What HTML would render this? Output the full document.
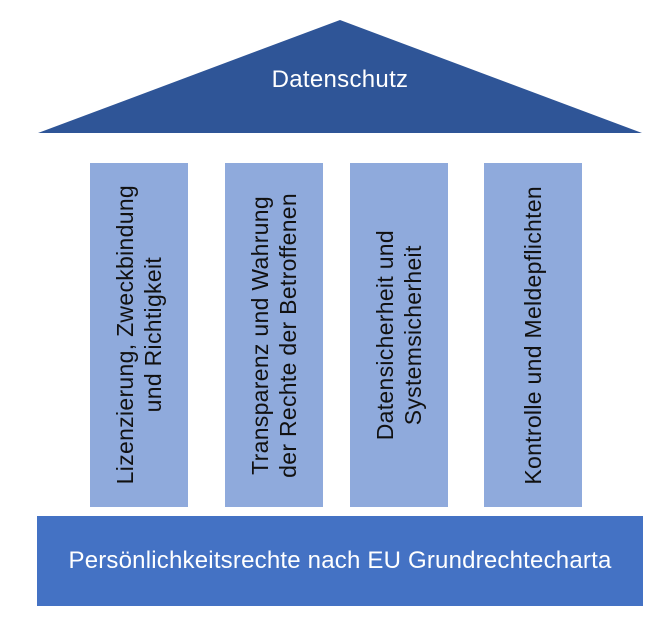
<!DOCTYPE html>
<html><head><meta charset="utf-8"><style>
body{margin:0;width:666px;height:619px;background:#fff;position:relative;overflow:hidden;font-family:"Liberation Sans",Arial,sans-serif}
.p{position:absolute;top:163px;width:98px;height:344px;background:#8faadc;display:flex;align-items:center;justify-content:center}
.p span{writing-mode:vertical-rl;transform:rotate(180deg);font-size:23px;line-height:28px;text-align:center;color:#111;white-space:nowrap;letter-spacing:0.3px}
.base{position:absolute;left:37px;top:516px;width:606px;height:90px;background:#4472c4;color:#fff;font-size:24px;display:flex;align-items:center;justify-content:center;letter-spacing:0.2px}
</style></head><body>
<svg width="666" height="140" style="position:absolute;left:0;top:0">
<polygon points="340,20 38,133 642,133" fill="#2f5597"/>
<text x="340" y="87" fill="#fff" font-size="24" text-anchor="middle" font-family="Liberation Sans,Arial,sans-serif" letter-spacing="0.3">Datenschutz</text>
</svg>
<div class="p" style="left:90px"><span>Lizenzierung, Zweckbindung<br>und Richtigkeit</span></div>
<div class="p" style="left:225px"><span>Transparenz und Wahrung<br>der Rechte der Betroffenen</span></div>
<div class="p" style="left:350px"><span>Datensicherheit und<br>Systemsicherheit</span></div>
<div class="p" style="left:484px"><span>Kontrolle und Meldepflichten</span></div>
<div class="base">Persönlichkeitsrechte nach EU Grundrechtecharta</div>
</body></html>
